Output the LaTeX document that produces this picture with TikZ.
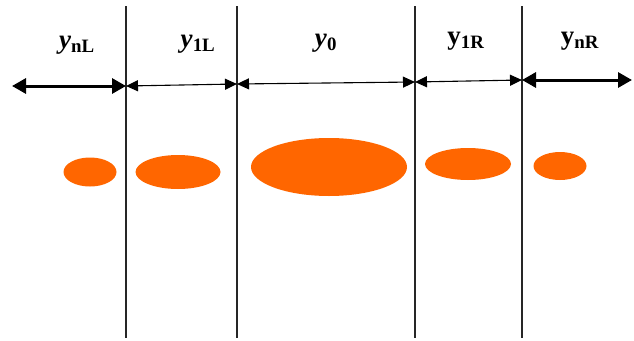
\documentclass[tikz,border=0pt]{standalone}
\usepackage{fontspec}
\setmainfont{Liberation Serif}
\usetikzlibrary{arrows.meta,shapes.geometric}

\definecolor{spotorange}{RGB}{255,102,0}

\tikzset{
  divider/.style={line width=1.5pt, draw=black!85},
  widearrow/.style={line width=3pt, {Triangle[length=14pt,width=15pt]}-{Triangle[length=14pt,width=15pt]}},
  narrowarrow/.style={line width=1.1pt, {Triangle[length=12pt,width=11pt]}-{Triangle[length=12pt,width=11pt]}},
  spot/.style={ellipse, fill=spotorange, inner sep=0pt},
  zonelabel/.style={font=\fontsize{27}{30}\selectfont\bfseries}
}

\begin{document}
\begin{tikzpicture}[x=1pt,y=-1pt]
\useasboundingbox (0,0) rectangle (634,340);

% dividing lines
\coordinate (T1) at (126,6);   \coordinate (B1) at (126,338);
\coordinate (T2) at (237,6);   \coordinate (B2) at (237,338);
\coordinate (T3) at (415,6);   \coordinate (B3) at (415,338);
\coordinate (T4) at (522,6);   \coordinate (B4) at (522,338);

\draw [divider] (T1) -- (B1);
\draw [divider] (T2) -- (B2);
\draw [divider] (T3) -- (B3);
\draw [divider] (T4) -- (B4);

% arrow ends
\coordinate (L0) at (12,86);
\coordinate (L1) at (126,86);
\coordinate (L2a) at (126,86);  \coordinate (L2b) at (237,84);
\coordinate (M0a) at (237,84);  \coordinate (M0b) at (415,82);
\coordinate (R1a) at (415,82);  \coordinate (R1b) at (522,80);
\coordinate (R0a) at (522,80);  \coordinate (R0b) at (632,80);

\draw [widearrow] (L0) -- (L1);
\draw [narrowarrow] (L2a) -- (L2b);
\draw [narrowarrow] (M0a) -- (M0b);
\draw [narrowarrow] (R1a) -- (R1b);
\draw [widearrow] (R0a) -- (R0b);

% labels
\node (ynL) at (77,45) [zonelabel] {\textit{y}\textsubscript{nL}};
\node (y1L) at (198,44) [zonelabel] {\textit{y}\textsubscript{1L}};
\node (y0) at (326,43) [zonelabel] {\textit{y}\textsubscript{0}};
\node (y1R) at (466,41) [zonelabel] {y\textsubscript{1R}};
\node (ynR) at (580,41) [zonelabel] {y\textsubscript{nR}};

% spots
\node (s1) at (90,172) [spot, minimum width=53pt, minimum height=29pt] {};
\node (s2) at (178,172) [spot, minimum width=85pt, minimum height=34pt] {};
\node (s3) at (329,167) [spot, minimum width=156pt, minimum height=58pt] {};
\node (s4) at (468,164) [spot, minimum width=86pt, minimum height=32pt] {};
\node (s5) at (560,166) [spot, minimum width=53pt, minimum height=28pt] {};

\end{tikzpicture}
\end{document}
